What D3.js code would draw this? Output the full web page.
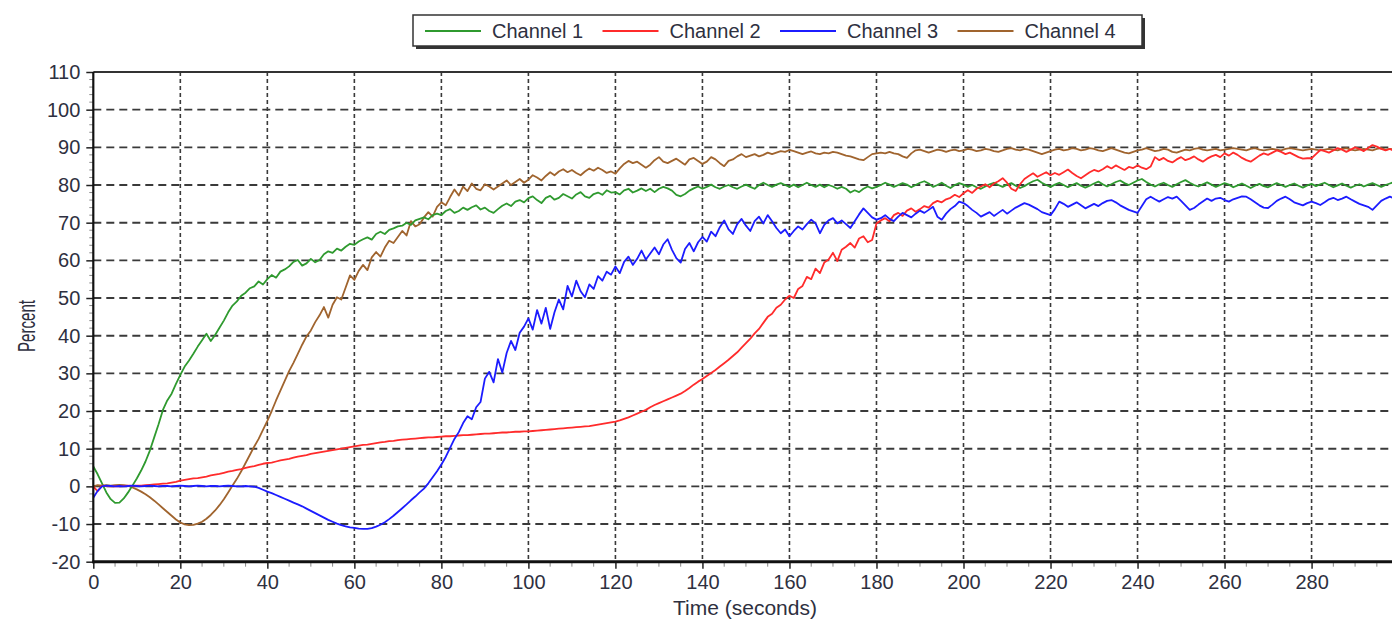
<!DOCTYPE html>
<html>
<head>
<meta charset="utf-8">
<script src="https://cdn.jsdelivr.net/npm/d3@7/dist/d3.min.js"></script>
<style>
  html, body { margin: 0; padding: 0; background: #fff; }
  svg { display: block; font-family: "Liberation Sans", Arial, sans-serif; }
</style>
</head>
<body>
<svg id="chart" width="1392" height="621"></svg>
<script>
// Sample times, one reading per second
const times = d3.range(0, 300);

const channelNames = ["Channel 1", "Channel 2", "Channel 3", "Channel 4"];
const channelColors = ["#2f9a2f", "#ff2b2b", "#1c1cff", "#a0642e"];

const yTickValues = [-20, -10, 0, 10, 20, 30, 40, 50, 60, 70, 80, 90, 100, 110];
const xTickValues = [0, 20, 40, 60, 80, 100, 120, 140, 160, 180, 200, 220, 240, 260, 280];

const channel1 = [
  5.3,3.2,0.8,-1.6,-3.4,-4.4,-4.3,-3.2,-1.6,0.2,2.1,4.2,6.6,9.5,13,16.5,20.3,22.8,24.6,27.2,
  29.6,31.8,33.4,35.2,37.1,38.8,40.5,38.6,40.2,42.1,44,46.2,48,49.1,50.6,51.4,52.6,53.1,54.4,53.6,
  55,56.1,55.4,57,57.6,58.4,59.6,60.1,58.6,59.2,60.4,59.5,60.1,61.6,62.4,62,63.1,62.6,63.6,64.4,
  64.1,65,65.6,66.1,65.5,67,67.6,67,68.1,68.5,69,69.2,70,69.4,70.6,71,71.4,70.9,72,72.4,
  72,73.1,73.6,72.6,73.1,74,73.4,74.1,74.6,73.5,74,73.1,72.6,73.6,74.5,75.1,74.4,75.6,76,75.4,
  76.5,77,76,75.2,76.6,77.1,76.1,76.6,77.6,77,76.4,77.5,78.1,77,76.6,77.6,78,77.4,78.6,78,
  78.1,77.5,78.6,79,78,78.5,79.1,78.4,79,78.1,79,79.5,79.1,78.5,77.4,77,77.6,78.5,79.1,79.6,
  79,79.5,80.1,79.4,79,79.6,80,79.4,79,79.6,80.1,79.5,79,80,80.6,80,79.5,80.1,80.5,80,
  79.5,80.1,79.4,80,80.6,80,79.5,80.1,79.4,80,79.6,79,79.5,79,78,78.6,78.1,79,79.6,79.1,
  79.5,80,80.6,80.1,79.5,80,80.5,80.1,79.4,80,80.6,81,80.4,79.5,80,80.6,79.8,79.2,80,80.5,
  80.1,79.5,80,79.4,79,79.6,80.2,80.6,80,79.5,80.1,80.5,79.8,79.2,79.7,80.4,81,81.4,80.6,80,
  79.5,80.1,80.6,80,79.4,80,80.5,79.8,79.3,79.8,80.4,80.9,80.2,79.6,80.2,80.8,81.2,80.5,80,80.6,
  81.2,81.6,80.8,80.1,79.6,80.2,80.6,80,79.5,80.2,80.8,81.3,80.6,80,79.6,80.2,80.7,80.1,79.5,80,
  80.5,80.1,79.4,79.9,80.4,79.8,79.2,79.8,80.3,79.7,79.4,80,80.5,80,79.5,80,80.4,79.8,79.3,79.9,
  80.3,79.7,80.2,80.6,80,79.4,79.9,80.4,79.8,79.3,79.8,80.2,79.6,80.1,80.5,80,79.5,80,80.4,80.8
];

const channel2 = [
  0,-1.3,0.2,0.1,0,0.1,0,0.1,0.2,0.1,0.2,0.2,0.3,0.4,0.5,0.6,0.7,0.8,1,1.2,
  1.5,1.7,1.9,2.1,2.2,2.4,2.6,2.9,3.1,3.3,3.6,3.9,4.1,4.4,4.6,4.9,5.2,5.4,5.7,6,
  6.2,6.3,6.6,6.9,7.1,7.3,7.6,7.9,8.1,8.3,8.6,8.8,9,9.2,9.4,9.6,9.8,10,10.2,10.4,
  10.6,10.8,11,11.1,11.3,11.5,11.7,11.8,12,12.1,12.3,12.4,12.5,12.6,12.7,12.8,12.9,13,13,13.1,
  13.2,13.3,13.3,13.4,13.5,13.6,13.6,13.7,13.8,13.9,14,14,14.1,14.2,14.3,14.3,14.4,14.5,14.5,14.6,
  14.6,14.7,14.8,14.9,15,15.1,15.2,15.3,15.4,15.5,15.6,15.7,15.8,15.9,16,16.2,16.4,16.6,16.8,17,
  17.2,17.5,17.9,18.3,18.8,19.3,19.8,20.3,21,21.6,22.1,22.6,23.1,23.6,24.1,24.6,25.3,26.1,27,27.8,
  28.5,29.3,30.1,30.9,31.8,32.7,33.6,34.6,35.6,36.8,38,39.2,40.6,41.8,43.4,45,45.8,47.4,48.2,49.6,
  50.6,50,52.4,53.2,55.6,55,57.8,56.6,59.4,60.2,62,59.8,62.8,63.6,64.6,63.4,65.8,66.4,64.8,65.4,
  69.8,70.6,71.2,70.4,72,72.6,71.8,73.2,73.8,72.9,73.6,74.4,74,75.2,75.8,75.4,76.2,76.6,77.4,76.8,
  77.8,78.6,77.9,79,79.6,80.2,79.4,80.4,81,81.8,80.6,79,78.4,80.2,81.6,82.4,83.1,82.2,82.8,83.4,
  82.6,83.2,82.7,83.4,84.1,83.2,82.4,81.8,82.6,83.4,84,83.6,84.2,85,84.4,85.2,84.6,84,84.8,84.5,
  85.2,84.6,84.2,84.9,87.4,86.6,87.2,86.4,86,86.8,87.4,86.6,87,87.6,86.8,86.2,87,87.6,88,87.4,
  88.4,87.8,88.6,88,87.2,86.6,86.2,87,87.8,88.4,88,88.6,89.2,88.8,88.2,88.6,88,87.4,87,87.1,
  87.1,88.2,89.3,89,88.6,89.2,89.8,89.4,88.8,89.4,90,89.6,89,89.8,90.6,90.2,89.6,89.2,89.6,89
];

const channel3 = [
  -3,-1.2,0,0.2,0.1,0,0.1,0,0.1,0.2,0.1,0,0.1,0.2,0.1,0,0.1,0.1,0,0.1,
  0.2,0.1,0,0.1,0.2,0.1,0,0.1,0.1,0,0.1,0.2,0.1,0,0,0.1,0,-0.1,-0.4,-0.9,
  -1.4,-1.8,-2.3,-2.8,-3.3,-3.8,-4.3,-4.8,-5.3,-5.9,-6.5,-7.1,-7.7,-8.3,-8.9,-9.4,-9.9,-10.3,-10.6,-10.9,
  -11,-11.2,-11.3,-11.3,-11.1,-10.7,-10.2,-9.5,-8.7,-7.8,-6.8,-5.8,-4.8,-3.7,-2.7,-1.6,-0.6,0.8,2.4,4,
  5.8,7.8,10.2,12.6,14.4,16.8,18.6,17.8,21,22.4,28.6,30.4,27.6,33.8,30.2,35.4,38.6,36.2,40.8,42.4,
  44.6,41.6,46.8,43.2,47.4,41.8,46.2,49.6,47,53.2,50.4,54.6,51.8,50.2,53.6,52.4,55.8,54.6,57,56.2,
  58.4,56.6,59.6,61,58.8,60.4,62.6,60.2,61.8,63.4,61.6,64.2,65.6,62.8,60.6,59.4,63,64.6,62.4,64.8,
  66.2,65,67.6,66.4,68.8,70.6,68.2,67,69.6,71,69.2,67.8,70.4,71.6,69.8,72,70.4,68.6,67.2,68.2,
  66.4,67.8,69,68.2,69.6,70.8,69.8,67.2,69.4,70.6,71.2,69.8,70.6,69.6,68.6,70.4,72.2,73.8,72.6,71.4,
  70.8,71.2,72,71,70.4,71.6,72.6,72,71.4,72.4,73.2,72.6,73.4,74.2,71.6,70.8,72.4,73.6,74.4,75.6,
  75.2,74.4,73.4,72.6,71.6,72.2,72.8,71.8,72.6,73.4,72.4,73.2,74,74.6,75.2,74.8,74.2,73.6,72.8,72.4,
  72,73.6,75.6,75,74.2,74.8,75.4,74.6,73.8,74.4,75,74.4,75.2,75.8,76,75.4,74.6,74,73.4,73,
  72.6,74.4,76.2,76.9,76.2,75.6,76.2,76.8,76.4,76.9,75.8,74.6,73.4,73.9,74.8,75.6,76.4,75.8,76.4,76.6,
  76,75.6,76.2,76.6,77,76.9,76.2,75.4,74.6,74,73.9,74.8,75.8,76.4,76.9,76.2,75.4,75,74.6,75.2,
  75.6,75.2,74.7,75.4,76.2,76.6,76,76.4,76.9,76.2,75.6,75,74.6,74.2,73.4,74.6,75.8,76.4,76.9,76.4
];

const channel4 = [
  0,0.3,0.2,0.3,0.2,0.3,0.4,0.3,0.1,-0.3,-0.8,-1.4,-2.1,-2.9,-3.8,-4.8,-5.8,-6.8,-7.8,-8.8,
  -9.6,-10.1,-10.3,-10.2,-9.9,-9.4,-8.6,-7.6,-6.4,-5,-3.4,-1.6,0.2,2,4,6.2,8.4,10.6,12.6,15,
  17.4,20,22.8,25.4,28,30.6,32.8,35.2,37.6,39.8,41.4,43.6,45.4,47.6,44.8,48.2,50.2,49.6,52.8,56,
  54.8,57.2,58.8,57.4,60.8,62.2,61,63.4,65.2,64.6,66.2,67.8,66.6,70.4,69,69.6,71.4,72.8,71.6,74.2,
  75.4,74.6,76.8,78.8,77.2,79.6,78.4,80.4,79,78.6,80.2,79.6,78.8,79.6,80.4,81.2,80,80.8,81.6,80.6,
  81.4,82.6,82,81.2,82.4,83.4,82.6,83.6,84.2,83.4,84,83.2,82.6,83.6,84.4,83.8,84.6,84,83.2,83.6,
  83,84.4,85.6,86.4,85.8,86.2,85.4,84.6,85.4,86.6,87.4,86.2,85.8,86.4,87,86.2,85.4,86.8,87.2,86.4,
  85.6,86.2,87.4,86.8,85.8,85,86.4,86.8,87.6,88.2,87.4,87.8,88.2,87.6,88,88.6,88.2,88.6,89,88.8,
  89.3,89,88.6,88.2,88.6,88.9,88.4,88.2,88.6,88.4,88.8,88.6,88.2,87.8,87.6,87.2,86.8,86.6,87.4,88.2,
  88.4,88.6,88.4,88.8,88.4,88.2,87.6,87.2,88.4,89.2,89.4,89,88.6,89,89.4,89.2,88.8,89.2,89.4,89,
  89.2,89.6,89.4,89,89.2,89.6,89.4,89,88.8,89.2,89.6,89.8,89.4,89.2,89.6,89.4,89,88.6,88.2,88.6,
  89,89.4,89.6,89.2,89.4,89.8,89.6,89.2,89.4,89.8,89.6,89.2,89,89.4,89.8,89.4,89,88.6,88.4,88.8,
  89.2,89.4,89.8,89.4,89,89.2,89.6,89.4,88.8,88.6,89,89.4,89.2,89.6,89.8,89.4,89.2,89.4,89.6,89.2,
  89.4,89.6,89.8,89.6,89.4,89.2,89.6,89.8,89.4,89.2,89.4,89.6,89.4,89.2,89.6,89.8,89.6,89.4,89.2,89.4,
  89.6,89.4,89.2,89.4,89.6,89.4,89.2,89.6,89.8,89.4,89.2,89.4,89.6,89.4,89.2,89.6,89.8,89.4,89.6,89.4
];

const channels = [channel1, channel2, channel3, channel4];
channels.forEach((c, i) => {
  if (c.length !== times.length) throw new Error(channelNames[i] + " has " + c.length + " samples");
});

// ---- layout ----
const W = 1392, H = 621;
const plotLeft = 93.3, plotTop = 72, plotBottom = 561.7;
const svg = d3.select("#chart");

const x = d3.scaleLinear().domain([0, 300]).range([plotLeft, 1398.6]);
const y = d3.scaleLinear().domain([-20, 110]).range([plotBottom, plotTop]);

svg.append("rect").attr("width", W).attr("height", H).attr("fill", "#fff");

svg.append("defs").append("clipPath").attr("id", "plot-clip")
  .append("rect")
  .attr("x", plotLeft).attr("y", plotTop)
  .attr("width", W - plotLeft).attr("height", plotBottom - plotTop);

// ---- grid ----
const grid = svg.append("g");
grid.selectAll("line.hgrid")
  .data(yTickValues.filter(v => v > -20 && v < 110))
  .join("line")
  .attr("x1", plotLeft).attr("x2", W)
  .attr("y1", d => y(d)).attr("y2", d => y(d))
  .attr("stroke", "#3a3a3a").attr("stroke-width", 1.9)
  .attr("stroke-dasharray", "8,5");

grid.selectAll("line.vgrid")
  .data(xTickValues.filter(v => v > 0))
  .join("line")
  .attr("x1", d => x(d)).attr("x2", d => x(d))
  .attr("y1", plotTop).attr("y2", plotBottom)
  .attr("stroke", "#3a3a3a").attr("stroke-width", 1.6)
  .attr("stroke-dasharray", "4,3");

// ---- series ----
const line = d3.line()
  .x((d, i) => x(times[i]))
  .y(d => y(d));

const drawOrder = [3, 0, 1, 2];
svg.append("g").attr("clip-path", "url(#plot-clip)")
  .selectAll("path")
  .data(drawOrder)
  .join("path")
  .attr("d", i => line(channels[i]))
  .attr("fill", "none")
  .attr("stroke", i => channelColors[i])
  .attr("stroke-width", 1.8)
  .attr("stroke-linejoin", "round");

// ---- axes ----
const labelColor = "#2e3040";

// minor ticks
svg.append("g").selectAll("line")
  .data(d3.range(-20, 111, 2).filter(v => v % 10 !== 0))
  .join("line")
  .attr("x1", plotLeft - 4).attr("x2", plotLeft)
  .attr("y1", d => y(d)).attr("y2", d => y(d))
  .attr("stroke", "#888").attr("stroke-width", 1);

svg.append("g").selectAll("line")
  .data(d3.range(0, 300, 5).filter(v => v % 20 !== 0))
  .join("line")
  .attr("x1", d => x(d)).attr("x2", d => x(d))
  .attr("y1", plotBottom).attr("y2", plotBottom + 5)
  .attr("stroke", "#888").attr("stroke-width", 1);

const plainNumber = d => String(d);
const yAxis = svg.append("g")
  .attr("transform", `translate(${plotLeft},0)`)
  .call(d3.axisLeft(y).tickValues(yTickValues).tickFormat(plainNumber).tickSize(7).tickPadding(6));
const xAxis = svg.append("g")
  .attr("transform", `translate(0,${plotBottom})`)
  .call(d3.axisBottom(x).tickValues(xTickValues).tickFormat(plainNumber).tickSize(7).tickPadding(6));

[yAxis, xAxis].forEach(g => {
  g.selectAll(".domain").remove();
  g.selectAll(".tick line").attr("stroke", "#222").attr("stroke-width", 1.5);
  g.selectAll(".tick text")
    .attr("font-size", 20)
    .attr("font-family", "'Liberation Sans', Arial, sans-serif")
    .attr("fill", labelColor);
});

// frame: top border, left axis, bottom axis
svg.append("line")
  .attr("x1", plotLeft).attr("x2", W).attr("y1", plotTop).attr("y2", plotTop)
  .attr("stroke", "#333").attr("stroke-width", 2);
svg.append("line")
  .attr("x1", plotLeft).attr("x2", plotLeft).attr("y1", plotTop).attr("y2", plotBottom + 1.5)
  .attr("stroke", "#111").attr("stroke-width", 2.2);
svg.append("line")
  .attr("x1", plotLeft - 1).attr("x2", W).attr("y1", plotBottom).attr("y2", plotBottom)
  .attr("stroke", "#111").attr("stroke-width", 3);

// axis titles
svg.append("text")
  .attr("x", 745).attr("y", 615)
  .attr("text-anchor", "middle")
  .attr("font-size", 21)
  .attr("fill", labelColor)
  .text("Time (seconds)");

svg.append("text")
  .attr("transform", "translate(35,326) rotate(-90)")
  .attr("text-anchor", "middle")
  .attr("font-size", 24)
  .attr("textLength", 52)
  .attr("lengthAdjust", "spacingAndGlyphs")
  .attr("fill", labelColor)
  .text("Percent");

// ---- legend ----
const legend = svg.append("g").attr("transform", "translate(413,15)");
legend.append("rect")
  .attr("x", 3).attr("y", 3).attr("width", 729).attr("height", 31)
  .attr("fill", "#333");
legend.append("rect")
  .attr("x", 0).attr("y", 0).attr("width", 729).attr("height", 31)
  .attr("fill", "#fff").attr("stroke", "#333").attr("stroke-width", 1.5);

const item = legend.selectAll("g.item")
  .data(channelNames)
  .join("g")
  .attr("transform", (d, i) => `translate(${12 + i * 177.5},0)`);
item.append("line")
  .attr("x1", 0).attr("x2", 56).attr("y1", 16).attr("y2", 16)
  .attr("stroke", (d, i) => channelColors[i]).attr("stroke-width", 2);
item.append("text")
  .attr("x", 67).attr("y", 23)
  .attr("font-size", 20)
  .attr("fill", labelColor)
  .text(d => d);
</script>
</body>
</html>
